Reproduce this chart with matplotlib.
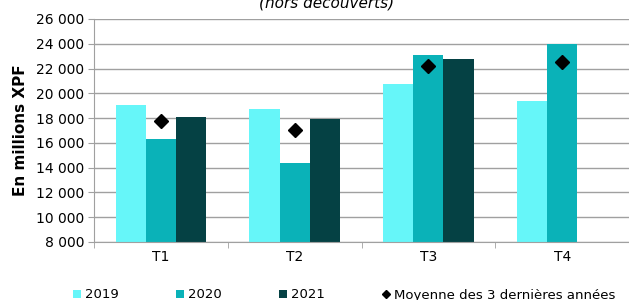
import numpy as np
import matplotlib.pyplot as plt
from matplotlib.lines import Line2D
from matplotlib.patches import Patch
from matplotlib.ticker import FuncFormatter, FixedLocator

# data (millions XPF)
quarters = ['T1', 'T2', 'T3', 'T4']
v2019 = [19050, 18750, 20750, 19370]
v2020 = [16330, 14400, 23070, 24000]
v2021 = [18050, 17900, 22800, np.nan]
moyenne = [17800, 17000, 22200, 22560]

c2019 = '#66F6F9'
c2020 = '#0AB2B8'
c2021 = '#054144'
grid_c = '#A0A0A0'

plt.rcParams['font.family'] = 'DejaVu Sans'

fig = plt.figure(figsize=(6.29, 3.0), dpi=100)
ax = fig.add_axes([94 / 629, 1 - 242 / 300, 1 - 94 / 629, (242 - 19) / 300])

x = np.arange(len(quarters))
w = 0.225
ax.bar(x - w, v2019, w, color=c2019, zorder=2)
ax.bar(x, v2020, w, color=c2020, zorder=2)
ax.bar(x + w, v2021, w, color=c2021, zorder=2)
ax.plot(x, moyenne, linestyle='none', marker='D', markersize=7,
        color='black', zorder=3)

ax.set_ylim(8000, 26000)
ax.set_xlim(-0.5, 3.5)
ax.set_yticks(np.arange(8000, 26001, 2000))
ax.yaxis.set_major_formatter(FuncFormatter(lambda v, p: f'{int(v):,}'.replace(',', ' ')))
ax.yaxis.grid(True, color=grid_c, linewidth=1, zorder=0)
ax.set_axisbelow(True)

ax.set_xticks(x)
ax.set_xticklabels(quarters)
ax.xaxis.set_minor_locator(FixedLocator([-0.5, 0.5, 1.5, 2.5]))
ax.tick_params(axis='x', which='major', length=0, pad=6, labelsize=10)
ax.tick_params(axis='x', which='minor', length=4, color=grid_c, direction='out')
ax.tick_params(axis='y', length=4, color=grid_c, labelsize=10, pad=3)

for s in ['top', 'right']:
    ax.spines[s].set_visible(False)
for s in ['left', 'bottom']:
    ax.spines[s].set_color(grid_c)

ax.set_ylabel('En millions XPF', fontsize=11, fontweight='bold', labelpad=6)

fig.text(327 / 629, 1 - 7.5 / 300, '(hors découverts)', ha='center',
         va='baseline', style='italic', fontsize=11)

handles = [
    Patch(facecolor=c2019, label='2019'),
    Patch(facecolor=c2020, label='2020'),
    Patch(facecolor=c2021, label='2021'),
    Line2D([], [], linestyle='none', marker='D', markersize=4,
           color='black', label='Moyenne des 3 dernières années'),
]
fig.legend(handles=handles, loc='center left', bbox_to_anchor=(73 / 629, 1 - 295 / 300),
           ncol=4, frameon=False, fontsize=9.5, handlelength=0.6, handleheight=0.6,
           handletextpad=0.3, columnspacing=4.35, borderpad=0, borderaxespad=0)

plt.savefig('out.png', dpi=100)
